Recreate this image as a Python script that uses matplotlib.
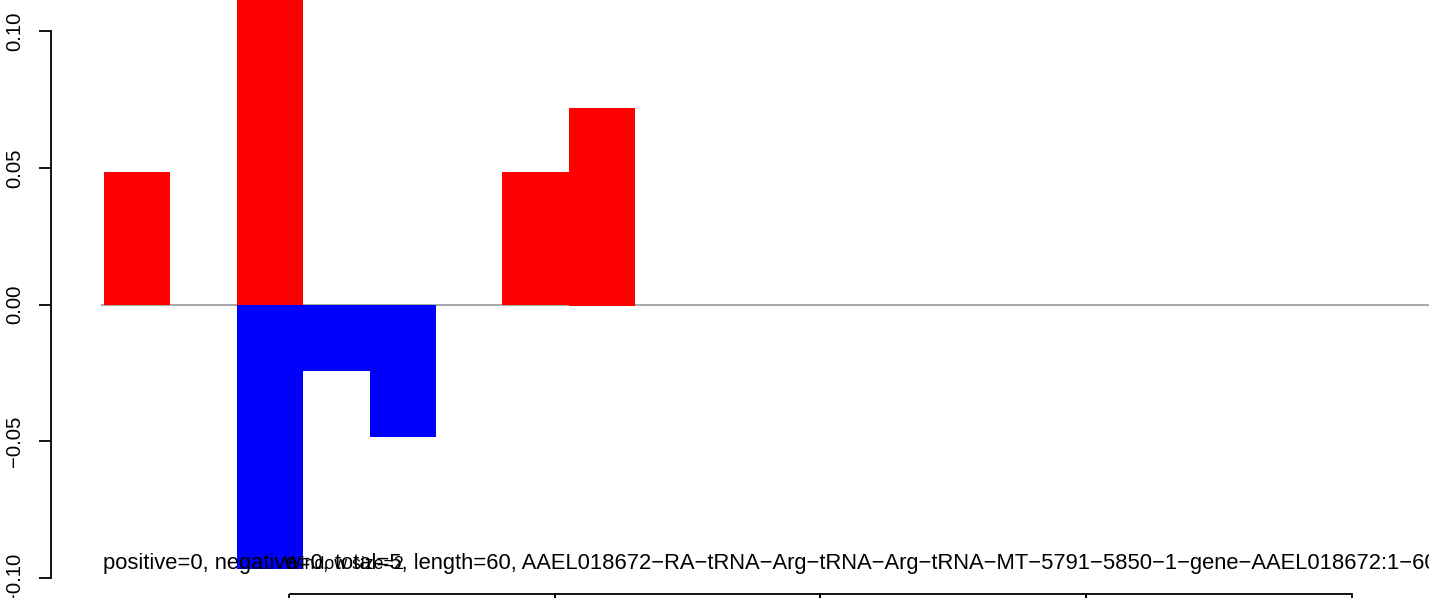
import matplotlib
matplotlib.use("Agg")
import matplotlib.pyplot as plt
from matplotlib.patches import Rectangle

plt.rcParams['font.family'] = ['Liberation Sans', 'DejaVu Sans']

# bar values per window position (bar index)
positions = [0, 1, 2, 3, 4, 5, 6, 7, 8]
pos_vals = [0.0484, 0.0, 0.121, 0.0, 0.0, 0.0, 0.0484, 0.0726, 0.0]
neg_vals = [0.0, 0.0, -0.0968, -0.0242, -0.0484, 0.0, 0.0, 0.0, 0.0]
pos_bottom = [0, 0, 0, 0, 0, 0, 0, -0.0006, 0]

# boxes at the bottom (start, width)
box_starts = [2.79, 6.79, 10.79, 14.79]
box_width = 4.0

yticks = [-0.10, -0.05, 0.0, 0.05, 0.10]
ytick_labels = ["\u22120.10", "\u22120.05", "0.00", "0.05", "0.10"]

info = ("positive=0, negative=0, total=5, length=60, "
        "AAEL018672\u2212RA\u2212tRNA\u2212Arg\u2212tRNA\u2212Arg\u2212tRNA\u2212MT"
        "\u22125791\u22125850\u22121\u2212gene\u2212AAEL018672:1\u221260")
window = "Window size=2"

W, H = 1429, 598
fig = plt.figure(figsize=(W / 100, H / 100), dpi=100)
ax = fig.add_axes([0, 0, 1, 1])

bw = 66.4     # px per bar
x0 = 104      # px of first bar
ppu = 2735.0  # px per y unit
y0 = 304.5    # px of zero line

ax.set_xlim(-x0 / bw, (W - x0) / bw)
ax.set_ylim(-(H - y0) / ppu, y0 / ppu)

# zero line
ax.axhline(0, xmin=(x0 - 2) / W, xmax=1, color='#A9A9A9', lw=1.5, zorder=1)

ax.bar(positions, neg_vals, width=1.0, align='edge', color='#0000FF',
       linewidth=0, zorder=2)
ax.bar(positions, pos_vals, width=1.0, align='edge', bottom=pos_bottom,
       color='#FF0000', linewidth=0, zorder=3)

for s in box_starts:
    ax.add_patch(Rectangle((s, -0.1059), box_width, -0.05, fill=False,
                           edgecolor='black', lw=1.3, zorder=4, clip_on=True))

ax.text(-0.02, -0.0968, info, fontsize=15.8, va='baseline', ha='left', zorder=5)
ax.text((284 - x0) / bw, -0.0968, window, fontsize=12.8, va='baseline',
        ha='left', zorder=5)

# y axis
for side in ['top', 'right', 'bottom']:
    ax.spines[side].set_visible(False)
ax.spines['left'].set_position(('data', (51 - x0) / bw))
ax.spines['left'].set_bounds(-0.10, 0.10)
ax.spines['left'].set_linewidth(1.3)
ax.set_xticks([])
ax.set_yticks(yticks)
ax.set_yticklabels(ytick_labels, rotation=90, va='center', fontsize=14.6)
ax.tick_params(axis='y', direction='out', length=8.6, width=1.3, pad=11)

fig.savefig("out.png", dpi=100)
